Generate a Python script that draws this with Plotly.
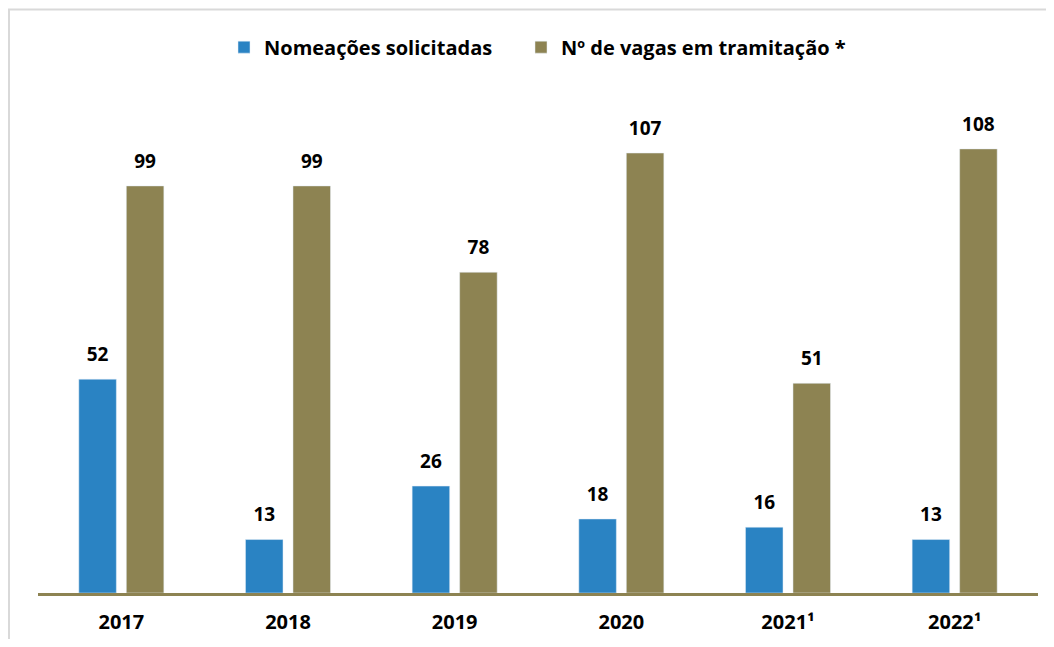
import plotly.graph_objects as go

anos = ["2017", "2018", "2019", "2020", "2021¹", "2022¹"]
nomeacoes = [52, 13, 26, 18, 16, 13]
vagas = [99, 99, 78, 107, 51, 108]

azul = "#2A83C3"
oliva = "#8D8352"
fonte = "Open Sans"

fig = go.Figure()
fig.add_trace(go.Bar(x=anos, y=nomeacoes, name="Nomeações solicitadas",
                     marker_color=azul, offsetgroup="a", legendwidth=252))
fig.add_trace(go.Bar(x=anos, y=vagas, name="Nº de vagas em tramitação *",
                     marker_color=oliva, offsetgroup="b"))

# rótulos de valor acima das barras
for serie, grp in [(nomeacoes, "a"), (vagas, "b")]:
    fig.add_trace(go.Scatter(x=anos, y=serie, mode="markers+text", text=[str(v) for v in serie],
                             textposition="top center", offsetgroup=grp,
                             marker=dict(size=20, opacity=0), showlegend=False, hoverinfo="skip",
                             textfont=dict(family=fonte, size=19, color="black", weight=700)))

fig.update_layout(
    width=1038, height=631,
    margin=dict(l=30, r=8, t=71, b=46),
    paper_bgcolor="white", plot_bgcolor="white",
    barmode="group", bargap=0.43, bargroupgap=0.21,
    scattermode="group", scattergap=0.43,
    font=dict(family=fonte, size=18, color="black"),
    legend=dict(orientation="h", x=0.186, xanchor="left", y=1.062, yanchor="middle",
                font=dict(family=fonte, size=20, color="black", weight=700),
                itemclick=False, traceorder="normal"),
    showlegend=True,
)
fig.update_xaxes(showline=True, linecolor=oliva, linewidth=3, showgrid=False, ticks="",
                 tickfont=dict(family=fonte, size=20, color="black", weight=700),
                 ticklabelstandoff=9, automargin=False)
fig.update_yaxes(visible=False, range=[0, 125], showgrid=False, automargin=False)

# moldura cinza
fig.add_shape(type="path", xref="paper", yref="paper",
              path="M -0.029,-0.2 L -0.029,1.135 L 1.1,1.135",
              line=dict(color="#D9D9D9", width=2))

fig.write_html("out.html")
